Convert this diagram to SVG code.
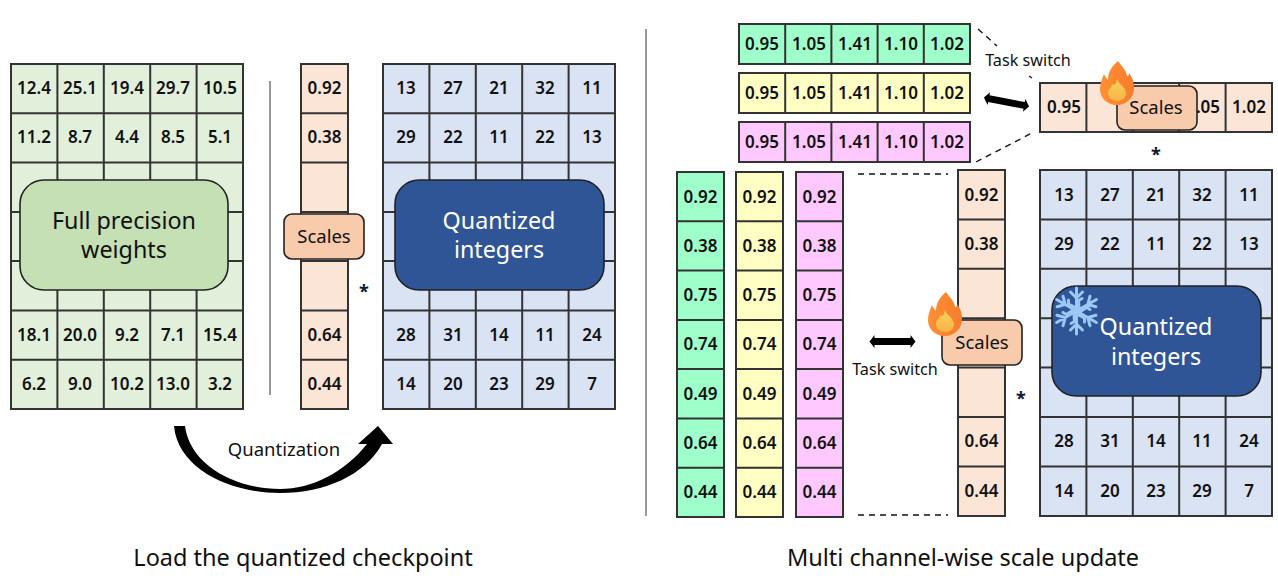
<svg xmlns="http://www.w3.org/2000/svg" xmlns:xlink="http://www.w3.org/1999/xlink" width="1278" height="583" viewBox="0 0 1278 583">
<style>
text{font-family:"Noto Sans","Noto Sans CJK KR","Liberation Sans",sans-serif;text-anchor:middle;fill:#111}
.n text,text.n{font-size:17px;font-weight:600}
.g{stroke:#333;stroke-width:2}
.ln{fill:none;stroke:#333;stroke-width:2}
.big{font-size:23.300px}
.big-w{font-size:23.300px;fill:#fff}
.sc{font-size:18.500px}
.cap{font-size:23.500px}
.ts{font-size:16.200px}
.st{font-size:18px;font-weight:700;fill:#0b1a33}
.dash{stroke:#111;stroke-width:1.400;stroke-dasharray:6 5;fill:none}
.box{stroke:#222;stroke-width:1.600}
.sep{stroke:#808080;stroke-width:1.600}
</style>
<defs>
<linearGradient id="fl" x1="0" y1="0" x2="1" y2="0"><stop offset="0" stop-color="#ff8f34"/><stop offset="1" stop-color="#f57d2c"/></linearGradient>
<linearGradient id="fi" x1="0" y1="0" x2="0" y2="1"><stop offset="0" stop-color="#ffd257"/><stop offset="1" stop-color="#f7b24a"/></linearGradient>
<g id="flame">
<path fill="url(#fl)" d="M1-22C6-15 9-13 10-7C11-6 12-8 12-10C16-5 17 0 17 5C17 15 9 22 0 22C-10 22-17 15-17 6C-17 0-15-4-13-9C-12-6-10-4-9-3C-9-11-5-17 1-22Z"/>
<path fill="url(#fi)" d="M0-4C2 2 9 4 9 10C9 15 5 18 0 18C-6 18-9 14-9 10C-9 6-6 6-5 1C-3 3-1 2 0-4Z"/>
</g>
<g id="dbl"><path fill="#000" d="M-23 0L-18-6.500V-3.400H18V-6.500L23 0L18 6.500V3.400H-18V6.500Z"/></g>
<g id="arm"><path fill="none" stroke="#9cc8f5" stroke-width="3" stroke-linecap="round" d="M0 0V-23M-6-19L0-13L6-19M-8-11V-7L0-3"/></g>
</defs>

<g id="connectors">
<line class="sep" x1="270" y1="81" x2="270" y2="395"/>
<line class="sep" x1="646" y1="29" x2="646" y2="516"/>
<path fill="#000" d="M174 426H185C190 465 235 489 280 489C312 489 345 472 367 444H358L378 426L393 444H382C365 475 325 493 280 493C232 493 178 470 174 426Z"/>
<line class="dash" x1="978" y1="29" x2="997" y2="46"/>
<line class="dash" x1="1029" y1="76" x2="1032" y2="78"/>
<line class="dash" x1="976" y1="162" x2="1032" y2="133"/>
<line class="dash" x1="858" y1="174" x2="948" y2="174"/>
<line class="dash" x1="858" y1="515" x2="948" y2="515"/>
<use xlink:href="#dbl" href="#dbl" transform="translate(1006.500 102) rotate(11)"/>
<use xlink:href="#dbl" href="#dbl" transform="translate(892.500 341.500)"/>
</g>

<g id="grid-weights" class="n">
<rect x="11" y="64" width="232" height="345" fill="#e2efda" class="g"/>
<path class="ln" d="M57.400 64V409M103.800 64V409M150.200 64V409M196.600 64V409M11 113.300H243M11 162.600H243M11 211.900H243M11 261.100H243M11 310.400H243M11 359.700H243"/>
<text x="34" y="94">12.4</text><text x="80" y="94">25.1</text><text x="127" y="94">19.4</text><text x="173" y="94">29.7</text><text x="220" y="94">10.5</text>
<text x="34" y="143">11.2</text><text x="80" y="143">8.7</text><text x="127" y="143">4.4</text><text x="173" y="143">8.5</text><text x="220" y="143">5.1</text>
<text x="34" y="341">18.1</text><text x="80" y="341">20.0</text><text x="127" y="341">9.2</text><text x="173" y="341">7.1</text><text x="220" y="341">15.4</text>
<text x="34" y="390">6.2</text><text x="80" y="390">9.0</text><text x="127" y="390">10.2</text><text x="173" y="390">13.0</text><text x="220" y="390">3.2</text>
</g>
<g id="node-full-precision">
<rect x="20" y="180" width="208" height="110" rx="24" fill="#c5e0b4" class="box"/>
<text class="big"><tspan x="124" y="229">Full precision</tspan><tspan x="124" y="258">weights</tspan></text>
</g>

<g id="grid-scales-left" class="n">
<rect x="301" y="64" width="47" height="345" fill="#fbe5d6" class="g"/>
<path class="ln" d="M301 113.300H348M301 162.600H348M301 211.900H348M301 261.100H348M301 310.400H348M301 359.700H348"/>
<text x="324.500" y="94">0.92</text><text x="324.500" y="143">0.38</text><text x="324.500" y="341">0.64</text><text x="324.500" y="390">0.44</text>
</g>
<g id="node-scales-left">
<rect x="284" y="214" width="80" height="45" rx="8" fill="#f8cbad" class="box"/>
<text class="sc" x="324" y="243">Scales</text>
</g>
<text id="mul-left" class="st" x="364" y="297.500">*</text>

<g id="grid-int-left" class="n">
<rect x="383" y="64" width="232" height="345" fill="#dae3f3" class="g"/>
<path class="ln" d="M429.400 64V409M475.800 64V409M522.200 64V409M568.600 64V409M383 113.300H615M383 162.600H615M383 211.900H615M383 261.100H615M383 310.400H615M383 359.700H615"/>
<text x="406" y="94">13</text><text x="453" y="94">27</text><text x="499" y="94">21</text><text x="545" y="94">32</text><text x="592" y="94">11</text>
<text x="406" y="143">29</text><text x="453" y="143">22</text><text x="499" y="143">11</text><text x="545" y="143">22</text><text x="592" y="143">13</text>
<text x="406" y="341">28</text><text x="453" y="341">31</text><text x="499" y="341">14</text><text x="545" y="341">11</text><text x="592" y="341">24</text>
<text x="406" y="390">14</text><text x="453" y="390">20</text><text x="499" y="390">23</text><text x="545" y="390">29</text><text x="592" y="390">7</text>
</g>
<g id="node-quant-left">
<rect x="395" y="180" width="209" height="110" rx="24" fill="#2f5597" class="box"/>
<text class="big-w"><tspan x="499" y="229">Quantized</tspan><tspan x="499" y="258">integers</tspan></text>
</g>
<text id="label-quantization" x="284" y="456" font-size="18.500">Quantization</text>
<text id="caption-left" class="cap" x="303" y="566">Load the quantized checkpoint</text>

<g id="row-green" class="n">
<rect x="739" y="24" width="231" height="40" fill="#9fffcb" class="g"/>
<path class="ln" d="M785.200 24V64M831.400 24V64M877.600 24V64M923.800 24V64"/>
<text x="762" y="50">0.95</text><text x="809" y="50">1.05</text><text x="855" y="50">1.41</text><text x="901" y="50">1.10</text><text x="947" y="50">1.02</text>
</g>
<g id="row-yellow" class="n">
<rect x="739" y="73" width="231" height="40" fill="#ffffc4" class="g"/>
<path class="ln" d="M785.200 73V113M831.400 73V113M877.600 73V113M923.800 73V113"/>
<text x="762" y="99">0.95</text><text x="809" y="99">1.05</text><text x="855" y="99">1.41</text><text x="901" y="99">1.10</text><text x="947" y="99">1.02</text>
</g>
<g id="row-pink" class="n">
<rect x="739" y="122" width="231" height="40" fill="#ffc9ff" class="g"/>
<path class="ln" d="M785.200 122V162M831.400 122V162M877.600 122V162M923.800 122V162"/>
<text x="762" y="148">0.95</text><text x="809" y="148">1.05</text><text x="855" y="148">1.41</text><text x="901" y="148">1.10</text><text x="947" y="148">1.02</text>
</g>
<text id="label-switch-top" class="ts" x="1028" y="66">Task switch</text>

<g id="row-scales" class="n">
<rect x="1040" y="83" width="232" height="49" fill="#fbe5d6" class="g"/>
<path class="ln" d="M1086.400 83V132M1132.800 83V132M1179.200 83V132M1225.600 83V132"/>
<text x="1064" y="113">0.95</text><text x="1208" y="113">.05</text><text x="1249" y="113">1.02</text>
</g>
<g id="node-scales-top">
<rect x="1117" y="86" width="80" height="44" rx="8" fill="#f8cbad" class="box"/>
<text class="sc" x="1156" y="114">Scales</text>
</g>
<use id="flame-top" xlink:href="#flame" href="#flame" x="1117" y="83"/>
<text id="mul-top" class="st" x="1156" y="160.500">*</text>

<g id="col-green" class="n">
<rect x="677" y="172" width="47" height="345" fill="#9fffcb" class="g"/>
<path class="ln" d="M677 221.300H724M677 270.600H724M677 319.900H724M677 369.100H724M677 418.400H724M677 467.700H724"/>
<text x="700.500" y="203">0.92</text><text x="700.500" y="252">0.38</text><text x="700.500" y="301">0.75</text><text x="700.500" y="350">0.74</text><text x="700.500" y="400">0.49</text><text x="700.500" y="449">0.64</text><text x="700.500" y="498">0.44</text>
</g>
<g id="col-yellow" class="n">
<rect x="736" y="172" width="47" height="345" fill="#ffffc4" class="g"/>
<path class="ln" d="M736 221.300H783M736 270.600H783M736 319.900H783M736 369.100H783M736 418.400H783M736 467.700H783"/>
<text x="759.500" y="203">0.92</text><text x="759.500" y="252">0.38</text><text x="759.500" y="301">0.75</text><text x="759.500" y="350">0.74</text><text x="759.500" y="400">0.49</text><text x="759.500" y="449">0.64</text><text x="759.500" y="498">0.44</text>
</g>
<g id="col-pink" class="n">
<rect x="796" y="172" width="47" height="345" fill="#ffc9ff" class="g"/>
<path class="ln" d="M796 221.300H843M796 270.600H843M796 319.900H843M796 369.100H843M796 418.400H843M796 467.700H843"/>
<text x="819.500" y="203">0.92</text><text x="819.500" y="252">0.38</text><text x="819.500" y="301">0.75</text><text x="819.500" y="350">0.74</text><text x="819.500" y="400">0.49</text><text x="819.500" y="449">0.64</text><text x="819.500" y="498">0.44</text>
</g>
<text id="label-switch-left" class="ts" x="895" y="375">Task switch</text>

<g id="col-scales-right" class="n">
<rect x="958" y="170" width="47" height="346" fill="#fbe5d6" class="g"/>
<path class="ln" d="M958 219.400H1005M958 268.800H1005M958 318.200H1005M958 367.600H1005M958 417H1005M958 466.400H1005"/>
<text x="981.500" y="201">0.92</text><text x="981.500" y="250">0.38</text><text x="981.500" y="447">0.64</text><text x="981.500" y="497">0.44</text>
</g>
<g id="node-scales-right">
<rect x="942" y="320" width="80" height="45" rx="8" fill="#f8cbad" class="box"/>
<text class="sc" x="982" y="349">Scales</text>
</g>
<use id="flame-right" xlink:href="#flame" href="#flame" x="945" y="314"/>
<text id="mul-right" class="st" x="1021" y="404.500">*</text>

<g id="grid-int-right" class="n">
<rect x="1040" y="170" width="232" height="346" fill="#dae3f3" class="g"/>
<path class="ln" d="M1086.400 170V516M1132.800 170V516M1179.200 170V516M1225.600 170V516M1040 219.400H1272M1040 268.800H1272M1040 318.200H1272M1040 367.600H1272M1040 417H1272M1040 466.400H1272"/>
<text x="1064" y="201">13</text><text x="1110" y="201">27</text><text x="1156" y="201">21</text><text x="1202" y="201">32</text><text x="1249" y="201">11</text>
<text x="1064" y="250">29</text><text x="1110" y="250">22</text><text x="1156" y="250">11</text><text x="1202" y="250">22</text><text x="1249" y="250">13</text>
<text x="1064" y="447">28</text><text x="1110" y="447">31</text><text x="1156" y="447">14</text><text x="1202" y="447">11</text><text x="1249" y="447">24</text>
<text x="1064" y="497">14</text><text x="1110" y="497">20</text><text x="1156" y="497">23</text><text x="1202" y="497">29</text><text x="1249" y="497">7</text>
</g>
<g id="node-quant-right">
<rect x="1052" y="286" width="209" height="110" rx="24" fill="#2f5597" class="box"/>
<text class="big-w"><tspan x="1156" y="335">Quantized</tspan><tspan x="1156" y="365">integers</tspan></text>
<g id="snowflake" transform="translate(1076.500 311)">
<use xlink:href="#arm" href="#arm"/>
<use xlink:href="#arm" href="#arm" transform="rotate(60)"/>
<use xlink:href="#arm" href="#arm" transform="rotate(120)"/>
<use xlink:href="#arm" href="#arm" transform="rotate(180)"/>
<use xlink:href="#arm" href="#arm" transform="rotate(240)"/>
<use xlink:href="#arm" href="#arm" transform="rotate(300)"/>
</g>
</g>
<text id="caption-right" class="cap" x="963" y="566">Multi channel-wise scale update</text>
</svg>
